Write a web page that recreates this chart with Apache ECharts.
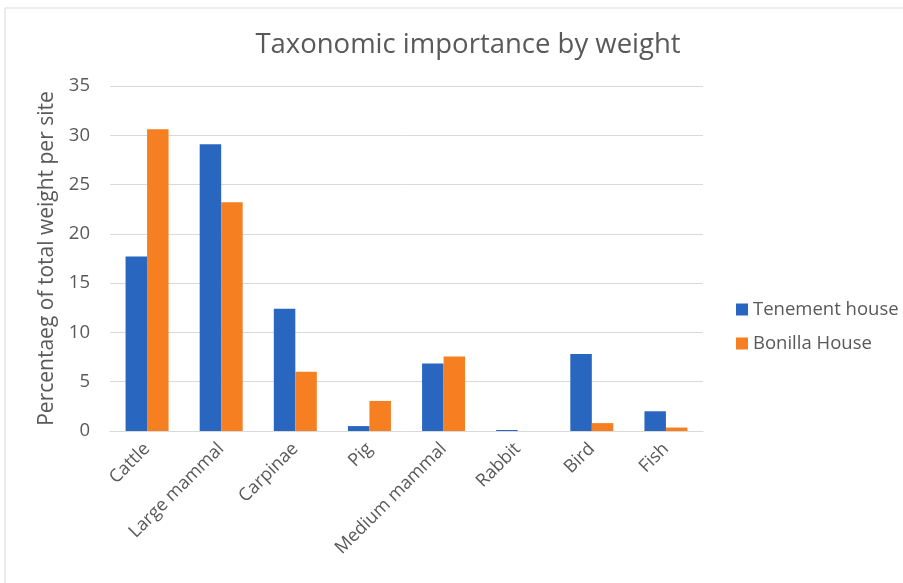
<!DOCTYPE html>
<html><head><meta charset="utf-8">
<script src="https://cdn.jsdelivr.net/npm/echarts@6/dist/echarts.min.js"></script>
<style>html,body{margin:0;padding:0;background:#fff}#c{width:903px;height:583px}</style>
</head><body><div id="c"></div>
<script>
const categories = ['Cattle','Large mammal','Carpinae','Pig','Medium mammal','Rabbit','Bird','Fish'];
const tenement = [17.7, 29.1, 12.4, 0.5, 6.85, 0.1, 7.8, 2.0];
const bonilla = [30.6, 23.2, 6.0, 3.05, 7.55, 0, 0.8, 0.35];
const seriesNames = ['Tenement house','Bonilla House'];
const titleText = 'Taxonomic importance by weight';
const yAxisName = 'Percentaeg of total weight per site';

const font = 'Open Sans';
const chart = echarts.init(document.getElementById('c'));
chart.setOption({
  animation: false,
  graphic: [{type:'rect', shape:{x:5,y:8,width:920,height:600}, style:{fill:'none',stroke:'#d9d9d9',lineWidth:1}}],
  title: {text: titleText, left: 463, top: 26, textAlign: 'center',
    textStyle:{fontFamily:font, fontWeight:'normal', fontSize:27.5, color:'#595959'}},
  legend: {orient:'vertical', left:731, top:295, itemWidth:12, itemHeight:12, itemGap:15,
    icon:'rect', textStyle:{fontFamily:font, fontSize:18.5, color:'#595959'}, data: seriesNames},
  grid: {left:110, right:200, top:86, bottom:152, containLabel:false},
  xAxis: {type:'category', data: categories,
    axisLine:{lineStyle:{color:'#d9d9d9'}}, axisTick:{show:false},
    axisLabel:{rotate:45, interval:0, fontFamily:font, fontSize:18, color:'#595959', margin:15}},
  yAxis: {type:'value', min:0, max:35, interval:5, name: yAxisName, nameLocation:'middle', nameGap:50,
    nameTextStyle:{fontFamily:font, fontSize:21, color:'#595959'},
    axisLine:{show:false}, axisTick:{show:false},
    axisLabel:{fontFamily:font, fontSize:18.5, color:'#595959', margin:20},
    splitLine:{lineStyle:{color:'#d9d9d9'}}},
  series: [
    {name: seriesNames[0], type:'bar', data: tenement, barGap:'0%', barCategoryGap:'42%',
      itemStyle:{color:'#2966BF'}},
    {name: seriesNames[1], type:'bar', data: bonilla,
      itemStyle:{color:'#F57F21'}}
  ]
});
</script></body></html>
